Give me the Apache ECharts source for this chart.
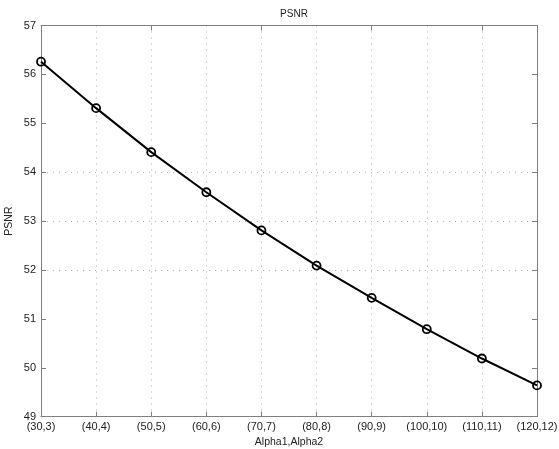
<!DOCTYPE html>
<html>
<head>
<meta charset="utf-8">
<script src="https://cdn.jsdelivr.net/npm/echarts@6/dist/echarts.min.js"></script>
<style>
  html, body { margin: 0; padding: 0; background: #fff; }
  #chart { width: 559px; height: 449px; }
</style>
</head>
<body>
<div id="chart"></div>
<script>
// Parameter pairs (Alpha1, Alpha2) along the x axis
const categories = ['(30,3)', '(40,4)', '(50,5)', '(60,6)', '(70,7)', '(80,8)', '(90,9)', '(100,10)', '(110,11)', '(120,12)'];
// PSNR values for each parameter pair
const psnrValues = [56.26, 55.31, 54.41, 53.59, 52.81, 52.09, 51.43, 50.79, 50.19, 49.64];
// Y axis range
const yMin = 49;
const yMax = 57;

const font = 'Liberation Sans, Arial, Helvetica, sans-serif';
const axisGray = '#7f7f7f';
const gridGray = '#b0b0b0';

// Horizontal grid lines are drawn only at 52, 53, 54
const hGridColors = [];
for (let v = yMin; v <= yMax; v++) {
  hGridColors.push(v >= 52 && v <= 54 ? gridGray : 'rgba(0,0,0,0)');
}

const chart = echarts.init(document.getElementById('chart'), null, { renderer: 'canvas' });

const baseX = {
  type: 'category',
  data: categories,
  boundaryGap: false,
  axisLine: { show: true, onZero: false, lineStyle: { color: axisGray, width: 1 } },
  axisTick: { show: true, inside: true, length: 5, alignWithLabel: true, lineStyle: { color: axisGray } }
};
const baseY = {
  type: 'value',
  min: yMin,
  max: yMax,
  interval: 1,
  axisLine: { show: true, onZero: false, lineStyle: { color: axisGray, width: 1 } },
  axisTick: { show: true, inside: true, length: 5, lineStyle: { color: axisGray } }
};

chart.setOption({
  animation: false,
  backgroundColor: '#ffffff',
  title: {
    text: 'PSNR',
    left: 289,
    textAlign: 'center',
    top: 4,
    textStyle: { fontFamily: font, fontSize: 10, fontWeight: 'normal', color: '#222' }
  },
  grid: { left: 41, right: 22, top: 25.5, bottom: 32.3, containLabel: false, outerBoundsMode: 'none' },
  xAxis: [
    Object.assign({}, baseX, {
      position: 'bottom',
      name: 'Alpha1,Alpha2',
      nameLocation: 'middle',
      nameGap: 20,
      nameMoveOverlap: false,
      nameTextStyle: { fontFamily: font, fontSize: 10.5, color: '#222' },
      axisLabel: { fontFamily: font, fontSize: 11, color: '#222', margin: 5, interval: 0, hideOverlap: false },
      splitLine: {
        show: true,
        showMinLine: false,
        showMaxLine: false,
        interval: 0,
        lineStyle: { color: gridGray, type: [1, 5], width: 1 }
      }
    }),
    Object.assign({}, baseX, {
      position: 'top',
      axisLabel: { show: false },
      splitLine: { show: false }
    })
  ],
  yAxis: [
    Object.assign({}, baseY, {
      position: 'left',
      name: 'PSNR',
      nameLocation: 'middle',
      nameGap: 26,
      nameMoveOverlap: false,
      nameRotate: 90,
      nameTextStyle: { fontFamily: font, fontSize: 10.5, color: '#222' },
      axisLabel: { fontFamily: font, fontSize: 11, color: '#222', margin: 5 },
      splitLine: {
        show: true,
        showMinLine: true,
        showMaxLine: true,
        lineStyle: { color: hGridColors, type: [1, 5], width: 1 }
      }
    }),
    Object.assign({}, baseY, {
      position: 'right',
      axisLabel: { show: false },
      splitLine: { show: false }
    })
  ],
  series: [
    {
      type: 'line',
      data: psnrValues,
      xAxisIndex: 0,
      yAxisIndex: 0,
      symbol: 'circle',
      symbolSize: 8,
      showAllSymbol: true,
      lineStyle: { color: '#000', width: 2 },
      itemStyle: { color: 'rgba(255,255,255,0)', borderColor: '#000', borderWidth: 1.8 },
      emphasis: { disabled: true },
      z: 5
    }
  ]
});
</script>
</body>
</html>
